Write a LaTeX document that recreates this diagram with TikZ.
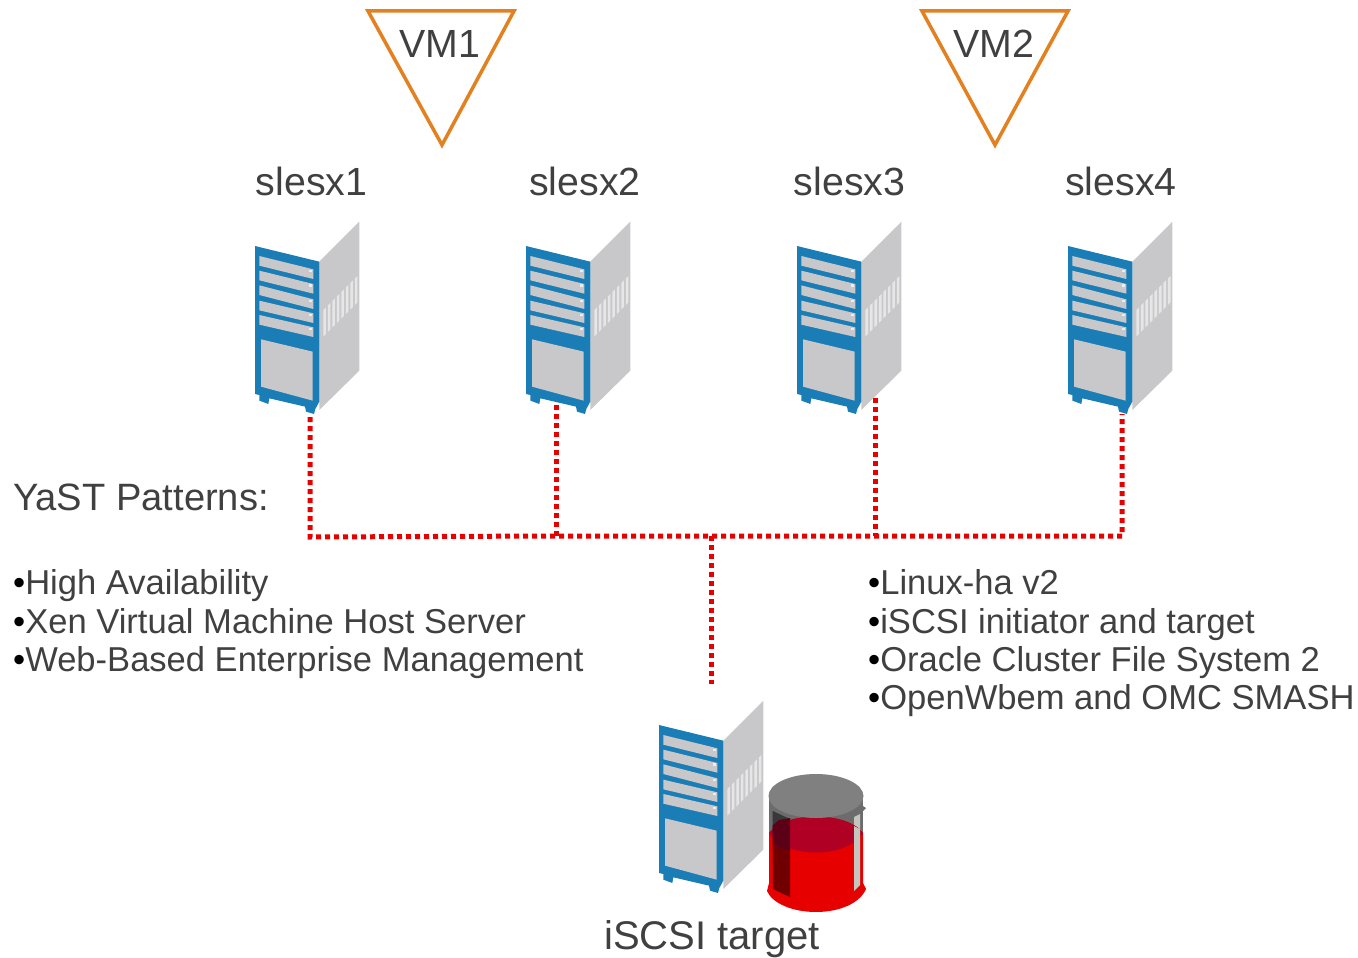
\documentclass[tikz,border=0pt]{standalone}
\usepackage{fontspec}
\setmainfont{Liberation Sans}
\definecolor{txt}{HTML}{404040}
\definecolor{sblue}{HTML}{1A7DB6}
\definecolor{sgray}{HTML}{C8C8CA}
\definecolor{svent}{HTML}{E6E6E6}
\definecolor{sled}{HTML}{EDEDED}
\definecolor{vmorange}{HTML}{E3801F}
\definecolor{linkred}{HTML}{E60000}
\definecolor{crimson}{HTML}{B00024}
\definecolor{diskgray}{HTML}{808080}
\definecolor{diskbody}{HTML}{6C6C6C}
\definecolor{diskstrip}{HTML}{C2C6BE}
\definecolor{panellow}{HTML}{700000}
\definecolor{panelmid}{HTML}{5C0018}
\newcommand{\bigtxt}{\fontsize{39.3}{39.3}\selectfont}
\newcommand{\listtxt}{\fontsize{34.55}{34.55}\selectfont}
\tikzset{
  x=1pt,y=-1pt,
  label text/.style={inner sep=0pt,text=txt,font=\bigtxt},
  list item/.style={inner sep=0pt,anchor=base west,text=txt,font=\listtxt},
  vm tri/.style={draw=vmorange,line width=3.5pt,line join=miter},
  link/.style={draw=linkred,line width=5pt,dash pattern=on 5pt off 4pt},
  server/.pic={
    \begin{scope}[x=0.3333pt,y=-0.3333pt,shift={(-45,-108)}]
      \fill[sgray] (238,155) -- (358,35) -- (358,482) -- (238,600) -- cycle;
      \foreach \i in {0,...,7}
        \fill[svent] ({250+\i*13.5},{300-\i*13.5}) -- ({258+\i*13.5},{292-\i*13.5}) -- ({258+\i*13.5},{372-\i*13.5}) -- ({250+\i*13.5},{380-\i*13.5}) -- cycle;
      \fill[sblue] (45,108) -- (238,155) -- (238,575) -- (226,597) -- (222,612) -- (198,605) -- (195,590) -- (88,565) -- (85,582) -- (58,572) -- (58,555) -- (45,552) -- cycle;
      \foreach \a/\b in {138/178,182/222,226/268,272/310,315/352}{
        \fill[sgray] (58,\a) -- (220,\b) -- (220,\b+29) -- (58,\a+29) -- cycle;
        \fill[sled] (206,\b+1) rectangle (215,\b+9);
      }
      \fill[sgray] (63,388) -- (218,425) -- (218,572) -- (63,530) -- cycle;
    \end{scope}
  }
}
\begin{document}
\begin{tikzpicture}
\useasboundingbox (0,0) rectangle (1358,958);
% VM triangles
\node[label text] (vm1) at (440,44) {VM1};
\node[label text] (vm2) at (994,44) {VM2};
\draw[vm tri] (368,11) -- (514,11) -- (442,145) -- cycle;
\draw[vm tri] (922,11) -- (1068,11) -- (995,145) -- cycle;
% host labels
\node[label text] (h1) at (311.5,181) {slesx1};
\node[label text] (h2) at (585,181) {slesx2};
\node[label text] (h3) at (849.5,181) {slesx3};
\node[label text] (h4) at (1121,181) {slesx4};
% servers
\pic at (255,246) {server};
\pic at (526,246) {server};
\pic at (797,246) {server};
\pic at (1068,246) {server};
\pic at (659,725) {server};
% connectors
\coordinate (p1) at (310,417);
\coordinate (p2) at (556,405);
\coordinate (p3) at (875,398);
\coordinate (p4) at (1122,414);
\coordinate (b1) at (310,537);
\coordinate (b2) at (556,536);
\coordinate (b3) at (875,536);
\coordinate (b4) at (1122,536);
\coordinate (b0) at (711,536);
\coordinate (t0) at (711,684);
\draw[link] (p1) -- (b1) -- (b2) -- (b4) -- (p4);
\draw[link] (p2) -- (b2);
\draw[link] (p3) -- (b3);
\draw[link] (b0) -- (t0);
% disk
\begin{scope}
  \fill[diskbody] (769,796) rectangle (863,850);
  \fill[black!78] (772.7,811) -- (790,819) -- (790,860) -- (772.7,860) -- cycle;
  \fill[diskstrip] (854,817) -- (860,814) -- (860,835) -- (854,835) -- cycle;
  % liquid
  \fill[linkred] (769,833) .. controls (785,811) and (847,811) .. (863,833) -- (863,883) -- (866,889) .. controls (860,903) and (840,912) .. (816,912) .. controls (792,912) and (772,903) .. (767,891) -- (769,883) -- cycle;
  \fill[crimson] (769,833) .. controls (785,811) and (847,811) .. (863,833) .. controls (847,859) and (785,859) .. (769,833) -- cycle;
  \fill[panellow] (772.7,845) -- (790,852) -- (790,897) -- (773,889) -- cycle;
  \fill[panelmid] (772.7,825.5) -- (779,820) -- (790,818) -- (790,852) -- (772.7,845) -- cycle;
  \fill[diskstrip] (854,826) -- (860,829) -- (860,885) -- (854,891) -- cycle;
  \fill[diskbody] (863,806) -- (866,808) -- (862,812) -- cycle;
  \fill[diskgray] (816,796) ellipse[x radius=47.5,y radius=22];
\end{scope}
\node[label text,font=\fontsize{40}{40}\selectfont] (tgt) at (712,939) {iSCSI target};
% text
\node[label text,anchor=base west,font=\fontsize{38.1}{38.1}\selectfont] (yast) at (13,510) {YaST Patterns:};
\node[list item] (l1) at (13,594) {\textcolor{black}{•}High Availability};
\node[list item] (l2) at (13,633) {\textcolor{black}{•}Xen Virtual Machine Host Server};
\node[list item] (l3) at (13,671) {\textcolor{black}{•}Web-Based Enterprise Management};
\node[list item] (r1) at (868,594) {\textcolor{black}{•}Linux-ha v2};
\node[list item] (r2) at (868,633) {\textcolor{black}{•}iSCSI initiator and target};
\node[list item] (r3) at (868,671) {\textcolor{black}{•}Oracle Cluster File System 2};
\node[list item] (r4) at (868,709) {\textcolor{black}{•}OpenWbem and OMC SMASH};
\end{tikzpicture}
\end{document}
